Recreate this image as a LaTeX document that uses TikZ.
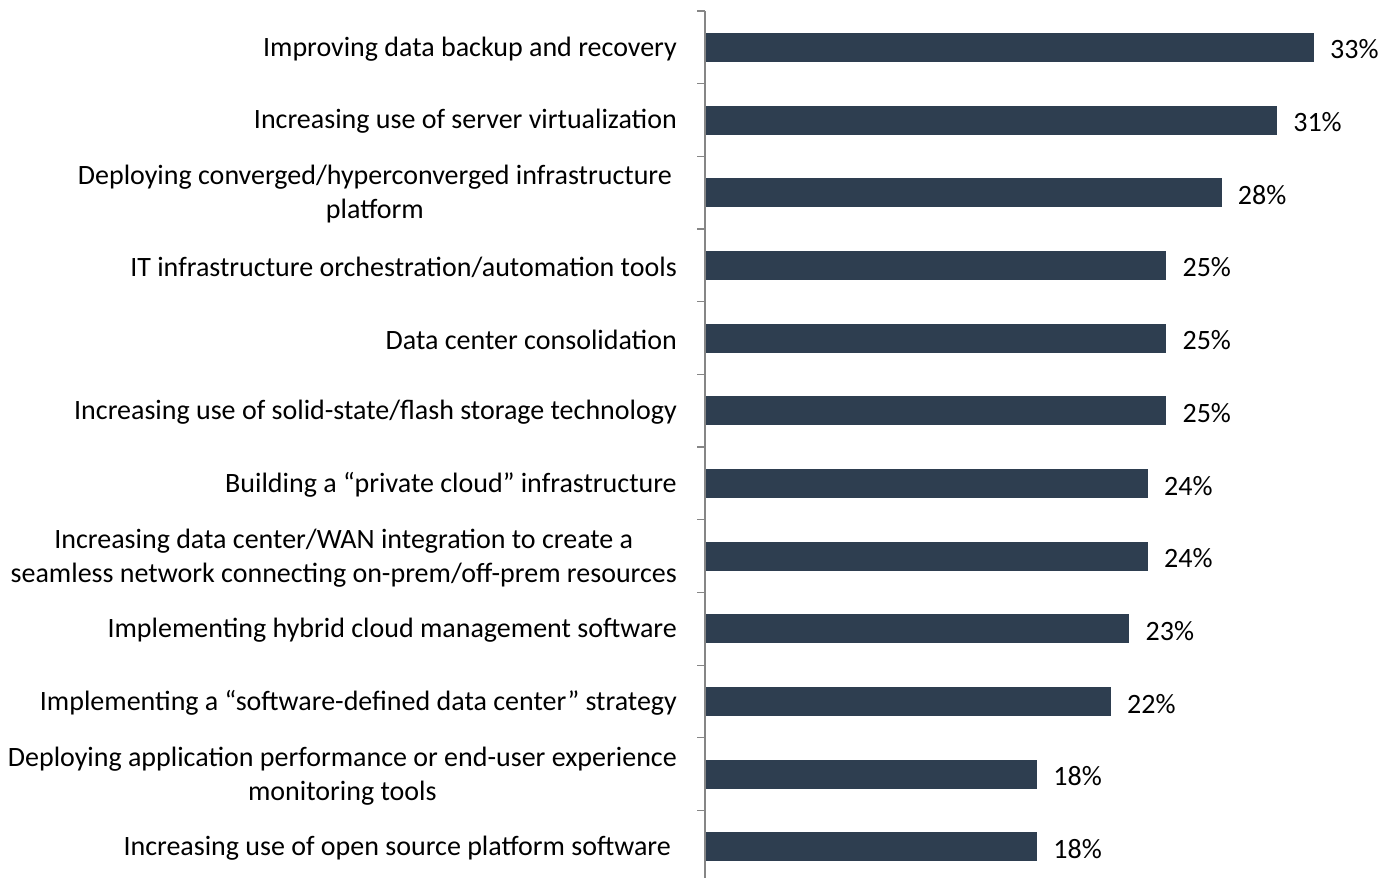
\documentclass[tikz,border=0pt]{standalone}
\usepackage{fontspec}
\setmainfont{Carlito}
\definecolor{barc}{HTML}{2E3E50}
\definecolor{axc}{HTML}{868686}
\begin{document}
\begin{tikzpicture}[x=1pt,y=-1pt,
  bar/.style={fill=barc,draw=none},
  lab/.style={anchor=east,align=center,font=\fontsize{28}{34}\selectfont,inner sep=0pt},
  val/.style={anchor=west,font=\fontsize{28}{34}\selectfont,inner sep=0pt},
  axis/.style={draw=axc,line width=1.2pt}]
\useasboundingbox (0,0) rectangle (1392,878);
\def\bw{18.455}
\coordinate (axtop) at (705,11);
\coordinate (axbot) at (705,878);
\draw[axis] (axtop) -- (axbot);
\foreach \i in {0,...,11}{
  \draw[axis] (697,11+\i*72.68) -- (705,11+\i*72.68);
}
\foreach \v/\l/\dx [count=\i from 0] in {
 33/{Improving data backup and recovery}/0,
 31/{Increasing use of server virtualization}/0,
 28/{Deploying converged/hyperconverged infrastructure\\platform}/5,
 25/{IT infrastructure orchestration/automation tools}/0,
 25/{Data center consolidation}/0,
 25/{Increasing use of solid-state/flash storage technology}/0,
 24/{Building a “private cloud” infrastructure}/0,
 24/{Increasing data center/WAN integration to create a\\seamless network connecting on-prem/off-prem resources}/0,
 23/{Implementing hybrid cloud management software}/0,
 22/{Implementing a “software-defined data center” strategy}/0,
 18/{Deploying application performance or end-user experience\\monitoring tools}/0,
 18/{Increasing use of open source platform software}/6}{
  \pgfmathsetmacro\yc{47.5+\i*72.68}
  \pgfmathsetmacro\xe{705+\v*\bw}
  \fill[bar] (705.6,\yc-14.5) rectangle (\xe,\yc+14.5);
  \coordinate (be\i) at (\xe,\yc);
  \node[val] (v\i) at ([xshift=16pt,yshift=-2pt]be\i) {\v\%};
  \node[lab] (l\i) at (677-\dx,\yc+1.5) {\l};
}
\end{tikzpicture}
\end{document}
